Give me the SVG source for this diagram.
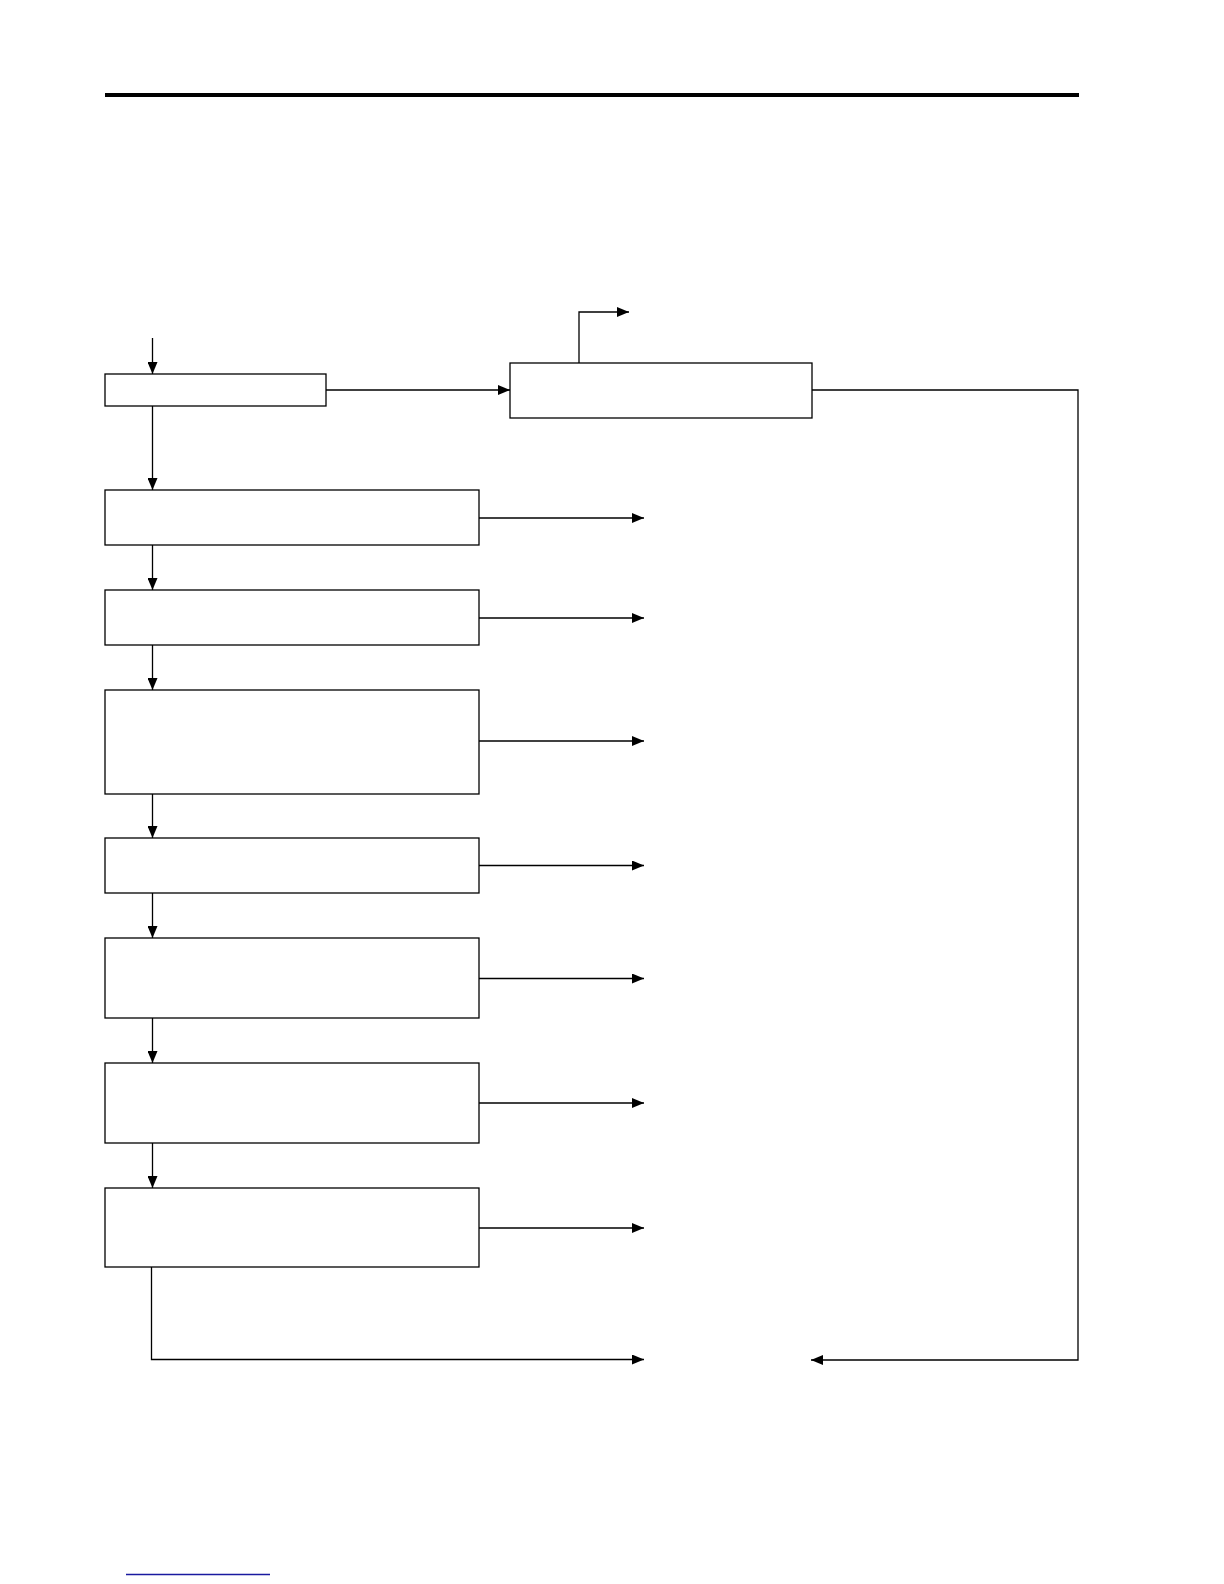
<svg xmlns="http://www.w3.org/2000/svg" width="1224" height="1584" viewBox="0 0 1224 1584">
<style>
.box{fill:#fff;stroke:#000;stroke-width:1.3}
.con{fill:none;stroke:#000;stroke-width:1.3}
</style>
<defs>
<marker id="ah" markerUnits="userSpaceOnUse" markerWidth="12" markerHeight="10" refX="12" refY="5" orient="auto">
<path d="M0,0 L12,5 L0,10 Z" fill="#000"/>
</marker>
</defs>
<rect width="1224" height="1584" fill="#fff"/>
<line x1="105" y1="95" x2="1079" y2="95" stroke="#000" stroke-width="4"/>
<line x1="126" y1="1574.5" x2="270" y2="1574.5" stroke="#1a1aa0" stroke-width="1.5"/>
<g id="nodeA"><rect class="box" x="105" y="374" width="221" height="32"/></g>
<g id="nodeB"><rect class="box" x="510" y="363" width="302" height="55"/></g>
<g id="node1"><rect class="box" x="105" y="490" width="374" height="55"/></g>
<g id="node2"><rect class="box" x="105" y="590" width="374" height="55"/></g>
<g id="node3"><rect class="box" x="105" y="690" width="374" height="104"/></g>
<g id="node4"><rect class="box" x="105" y="838" width="374" height="55"/></g>
<g id="node5"><rect class="box" x="105" y="938" width="374" height="80"/></g>
<g id="node6"><rect class="box" x="105" y="1063" width="374" height="80"/></g>
<g id="node7"><rect class="box" x="105" y="1188" width="374" height="79"/></g>
<g id="connectors">
<path class="con" d="M152.5,338 V374" marker-end="url(#ah)"/>
<path class="con" d="M326,390 H510" marker-end="url(#ah)"/>
<path class="con" d="M579,363 V312 H629" marker-end="url(#ah)"/>
<path class="con" d="M812,390 H1078 V1360 H811" marker-end="url(#ah)"/>
<path class="con" d="M152.5,406 V490" marker-end="url(#ah)"/>
<path class="con" d="M152.5,545 V590" marker-end="url(#ah)"/>
<path class="con" d="M152.5,645 V690" marker-end="url(#ah)"/>
<path class="con" d="M152.5,794 V838" marker-end="url(#ah)"/>
<path class="con" d="M152.5,893 V938" marker-end="url(#ah)"/>
<path class="con" d="M152.5,1018 V1063" marker-end="url(#ah)"/>
<path class="con" d="M152.5,1143 V1188" marker-end="url(#ah)"/>
<path class="con" d="M479,518 H644" marker-end="url(#ah)"/>
<path class="con" d="M479,618 H644" marker-end="url(#ah)"/>
<path class="con" d="M479,741 H644" marker-end="url(#ah)"/>
<path class="con" d="M479,865.5 H644" marker-end="url(#ah)"/>
<path class="con" d="M479,978.5 H644" marker-end="url(#ah)"/>
<path class="con" d="M479,1103 H644" marker-end="url(#ah)"/>
<path class="con" d="M479,1228 H644" marker-end="url(#ah)"/>
<path class="con" d="M151.5,1267 V1359.5 H644" marker-end="url(#ah)"/>
</g>
</svg>
